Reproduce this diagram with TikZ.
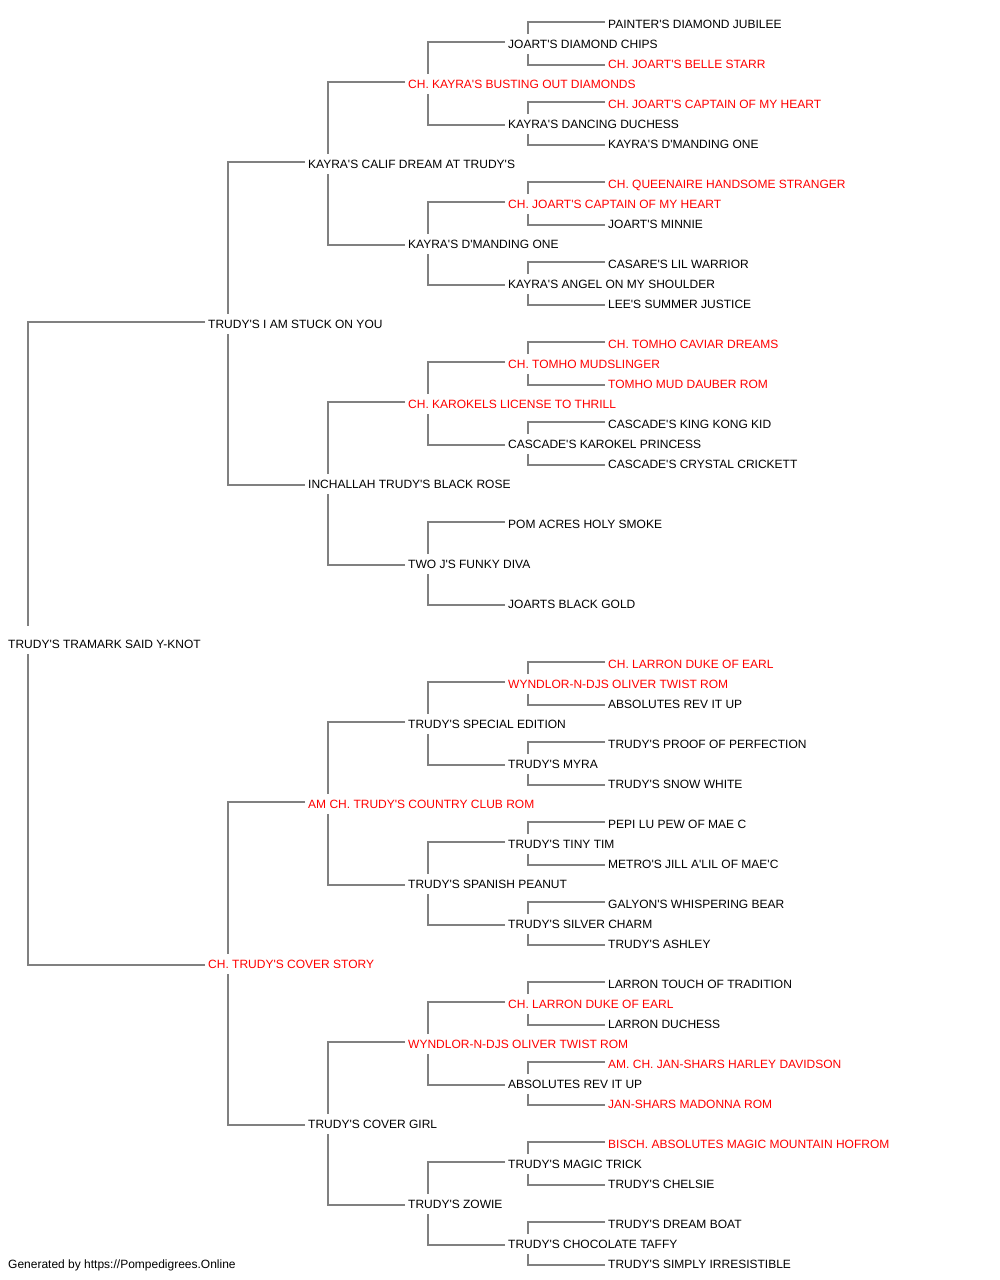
\documentclass[tikz,border=0pt]{standalone}
\usepackage{fontspec}
\setmainfont{Liberation Sans}
\newfontfamily\pedfont{Liberation Sans}[Ligatures=Common]
\definecolor{lng}{RGB}{128,128,128}
\definecolor{chred}{RGB}{255,0,0}
\newcommand\pedup[3][9.5]{\draw[ln] ([xshift=-3pt,yshift=1.5pt]#3.west) -| ([xshift=20pt,yshift=#1pt]#2.west);}
\newcommand\peddn[3][-10.5]{\draw[ln] ([xshift=-3pt,yshift=-1.5pt]#3.west) -| ([xshift=20pt,yshift=#1pt]#2.west);}
\begin{document}
\begin{tikzpicture}[x=1pt,y=-1pt,
  nm/.style={anchor=west,inner sep=0pt,text height=9.6pt,text depth=0pt,font=\pedfont\fontsize{12}{14}\selectfont},
  rd/.style={nm,text=chred},
  ln/.style={draw=lng,line width=1.3pt}]
\useasboundingbox (0,0) rectangle (1000,1280);
% generation 0
\node[nm] (r31) at (8,643.5) {TRUDY'S TRAMARK SAID Y-KNOT};
% generation 1
\node[nm] (r15) at (208,323.5) {TRUDY'S I AM STUCK ON YOU};
\node[rd] (r47) at (208,963.5) {CH. TRUDY'S COVER STORY};
% generation 2
\node[nm] (r7) at (308,163.5) {KAYRA'S CALIF DREAM AT TRUDY'S};
\node[nm] (r23) at (308,483.5) {INCHALLAH TRUDY'S BLACK ROSE};
\node[rd] (r39) at (308,803.5) {AM CH. TRUDY'S COUNTRY CLUB ROM};
\node[nm] (r55) at (308,1123.5) {TRUDY'S COVER GIRL};
% generation 3
\node[rd] (r3) at (408,83.5) {CH. KAYRA'S BUSTING OUT DIAMONDS};
\node[nm] (r11) at (408,243.5) {KAYRA'S D'MANDING ONE};
\node[rd] (r19) at (408,403.5) {CH. KAROKELS LICENSE TO THRILL};
\node[nm] (r27) at (408,563.5) {TWO J'S FUNKY DIVA};
\node[nm] (r35) at (408,723.5) {TRUDY'S SPECIAL EDITION};
\node[nm] (r43) at (408,883.5) {TRUDY'S SPANISH PEANUT};
\node[rd] (r51) at (408,1043.5) {WYNDLOR-N-DJS OLIVER TWIST ROM};
\node[nm] (r59) at (408,1203.5) {TRUDY'S ZOWIE};
% generation 4
\node[nm] (r1) at (508,43.5) {JOART'S DIAMOND CHIPS};
\node[nm] (r5) at (508,123.5) {KAYRA'S DANCING DUCHESS};
\node[rd] (r9) at (508,203.5) {CH. JOART'S CAPTAIN OF MY HEART};
\node[nm] (r13) at (508,283.5) {KAYRA'S ANGEL ON MY SHOULDER};
\node[rd] (r17) at (508,363.5) {CH. TOMHO MUDSLINGER};
\node[nm] (r21) at (508,443.5) {CASCADE'S KAROKEL PRINCESS};
\node[nm] (r25) at (508,523.5) {POM ACRES HOLY SMOKE};
\node[nm] (r29) at (508,603.5) {JOARTS BLACK GOLD};
\node[rd] (r33) at (508,683.5) {WYNDLOR-N-DJS OLIVER TWIST ROM};
\node[nm] (r37) at (508,763.5) {TRUDY'S MYRA};
\node[nm] (r41) at (508,843.5) {TRUDY'S TINY TIM};
\node[nm] (r45) at (508,923.5) {TRUDY'S SILVER CHARM};
\node[rd] (r49) at (508,1003.5) {CH. LARRON DUKE OF EARL};
\node[nm] (r53) at (508,1083.5) {ABSOLUTES REV IT UP};
\node[nm] (r57) at (508,1163.5) {TRUDY'S MAGIC TRICK};
\node[nm] (r61) at (508,1243.5) {TRUDY'S CHOCOLATE TAFFY};
% generation 5
\node[nm] (r0) at (608,23.5) {PAINTER'S DIAMOND JUBILEE};
\node[rd] (r2) at (608,63.5) {CH. JOART'S BELLE STARR};
\node[rd] (r4) at (608,103.5) {CH. JOART'S CAPTAIN OF MY HEART};
\node[nm] (r6) at (608,143.5) {KAYRA'S D'MANDING ONE};
\node[rd] (r8) at (608,183.5) {CH. QUEENAIRE HANDSOME STRANGER};
\node[nm] (r10) at (608,223.5) {JOART'S MINNIE};
\node[nm] (r12) at (608,263.5) {CASARE'S LIL WARRIOR};
\node[nm] (r14) at (608,303.5) {LEE'S SUMMER JUSTICE};
\node[rd] (r16) at (608,343.5) {CH. TOMHO CAVIAR DREAMS};
\node[rd] (r18) at (608,383.5) {TOMHO MUD DAUBER ROM};
\node[nm] (r20) at (608,423.5) {CASCADE'S KING KONG KID};
\node[nm] (r22) at (608,463.5) {CASCADE'S CRYSTAL CRICKETT};
\node[rd] (r32) at (608,663.5) {CH. LARRON DUKE OF EARL};
\node[nm] (r34) at (608,703.5) {ABSOLUTES REV IT UP};
\node[nm] (r36) at (608,743.5) {TRUDY'S PROOF OF PERFECTION};
\node[nm] (r38) at (608,783.5) {TRUDY'S SNOW WHITE};
\node[nm] (r40) at (608,823.5) {PEPI LU PEW OF MAE C};
\node[nm] (r42) at (608,863.5) {METRO'S JILL A'LIL OF MAE'C};
\node[nm] (r44) at (608,903.5) {GALYON'S WHISPERING BEAR};
\node[nm] (r46) at (608,943.5) {TRUDY'S ASHLEY};
\node[nm] (r48) at (608,983.5) {LARRON TOUCH OF TRADITION};
\node[nm] (r50) at (608,1023.5) {LARRON DUCHESS};
\node[rd] (r52) at (608,1063.5) {AM. CH. JAN-SHARS HARLEY DAVIDSON};
\node[rd] (r54) at (608,1103.5) {JAN-SHARS MADONNA ROM};
\node[rd] (r56) at (608,1143.5) {BISCH. ABSOLUTES MAGIC MOUNTAIN HOFROM};
\node[nm] (r58) at (608,1183.5) {TRUDY'S CHELSIE};
\node[nm] (r60) at (608,1223.5) {TRUDY'S DREAM BOAT};
\node[nm] (r62) at (608,1263.5) {TRUDY'S SIMPLY IRRESISTIBLE};
% footer
\node[nm] (foot) at (8,1263.5) {Generated by https://Pompedigrees.Online};
% connectors
\pedup[18]{r31}{r15} \peddn{r31}{r47}
\pedup{r15}{r7} \peddn{r15}{r23}
\pedup{r47}{r39} \peddn{r47}{r55}
\pedup{r7}{r3} \peddn{r7}{r11}
\pedup{r23}{r19} \peddn{r23}{r27}
\pedup{r39}{r35} \peddn{r39}{r43}
\pedup{r55}{r51} \peddn{r55}{r59}
\pedup{r3}{r1} \peddn{r3}{r5}
\pedup{r11}{r9} \peddn{r11}{r13}
\pedup{r19}{r17} \peddn{r19}{r21}
\pedup{r27}{r25} \peddn{r27}{r29}
\pedup{r35}{r33} \peddn{r35}{r37}
\pedup{r43}{r41} \peddn{r43}{r45}
\pedup{r51}{r49} \peddn{r51}{r53}
\pedup{r59}{r57} \peddn{r59}{r61}
\pedup{r1}{r0} \peddn{r1}{r2}
\pedup{r5}{r4} \peddn{r5}{r6}
\pedup{r9}{r8} \peddn{r9}{r10}
\pedup{r13}{r12} \peddn{r13}{r14}
\pedup{r17}{r16} \peddn{r17}{r18}
\pedup{r21}{r20} \peddn{r21}{r22}
\pedup{r33}{r32} \peddn{r33}{r34}
\pedup{r37}{r36} \peddn{r37}{r38}
\pedup{r41}{r40} \peddn{r41}{r42}
\pedup{r45}{r44} \peddn{r45}{r46}
\pedup{r49}{r48} \peddn{r49}{r50}
\pedup{r53}{r52} \peddn{r53}{r54}
\pedup{r57}{r56} \peddn{r57}{r58}
\pedup{r61}{r60} \peddn{r61}{r62}
\end{tikzpicture}
\end{document}
